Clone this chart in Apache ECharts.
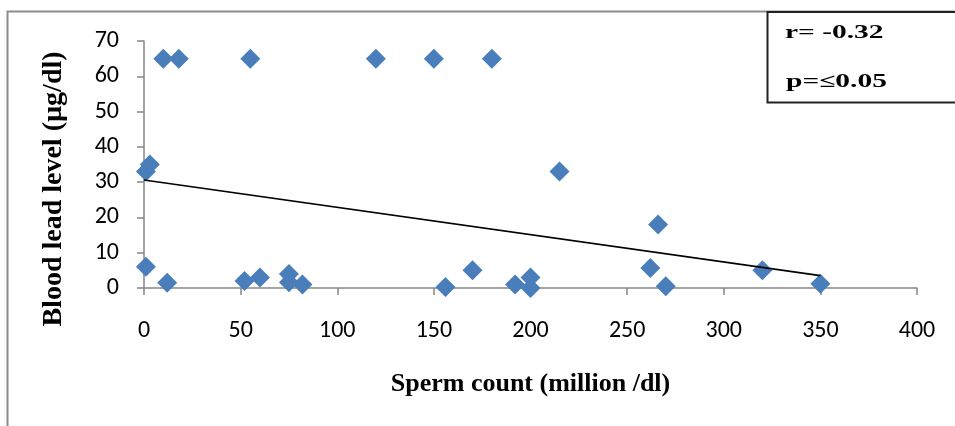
<!DOCTYPE html>
<html>
<head>
<meta charset="utf-8">
<script src="https://cdn.jsdelivr.net/npm/echarts@6/dist/echarts.min.js"></script>
<style>
  html, body { margin: 0; padding: 0; background: #fff; }
  #main { width: 955px; height: 426px; }
</style>
</head>
<body>
<div id="main"></div>
<script>
// values
var spermCount = [10, 18, 55, 120, 150, 180, 3, 1, 1, 12, 52, 60, 75, 75, 82, 156, 170, 192, 200, 200, 215, 266, 262, 270, 320, 350];
var leadLevel  = [65, 65, 65, 65, 65, 65, 35, 33, 6, 1.5, 2, 3, 4, 1.6, 1, 0.3, 5, 1, 3, 0, 33, 18, 5.7, 0.5, 5, 1.2];
var trendX = [0, 350];
var trendY = [30.6, 3.5];
var statLines = ['r= -0.32', 'p=\u22640.05'];

var points = [];
for (var i = 0; i < spermCount.length; i++) {
	points.push([spermCount[i], leadLevel[i]]);
}
var trend = [];
for (var j = 0; j < trendX.length; j++) {
	trend.push([trendX[j], trendY[j]]);
}

var axisGrey = '#868686';
var tickFont = 'Carlito, "Noto Sans", sans-serif';
var titleFont = '"Liberation Serif", "Times New Roman", serif';

var myChart = echarts.init(document.getElementById('main'));
var option = {
	animation: false,
	backgroundColor: '#fff',
	grid: {
		left: 144,
		top: 41,
		width: 773,
		height: 247
	},
	xAxis: {
		type: 'value',
		min: 0,
		max: 400,
		interval: 50,
		splitLine: { show: false },
		axisLine: { lineStyle: { color: axisGrey, width: 1.5 } },
		axisTick: { show: true, length: 7, lineStyle: { color: axisGrey, width: 1.5 } },
		axisLabel: { color: '#000', fontFamily: tickFont, fontSize: 24, margin: 31 },
		name: 'Sperm count (million /dl)',
		nameLocation: 'middle',
		nameGap: 83,
		nameTextStyle: { color: '#000', fontFamily: titleFont, fontWeight: 'bold', fontSize: 26 }
	},
	yAxis: {
		type: 'value',
		min: 0,
		max: 70,
		interval: 10,
		splitLine: { show: false },
		axisLine: { show: true, lineStyle: { color: axisGrey, width: 1.5 } },
		axisTick: { show: true, length: 7, lineStyle: { color: axisGrey, width: 1.5 } },
		axisLabel: { color: '#000', fontFamily: tickFont, fontSize: 24, margin: 25 }
	},
	series: [{
		type: 'scatter',
		data: points,
		symbol: 'diamond',
		symbolSize: 20,
		itemStyle: { color: '#4a7ebb', opacity: 1 },
		z: 3
	}, {
		type: 'line',
		data: trend,
		symbol: 'none',
		lineStyle: { color: '#000', width: 1.6 },
		z: 4
	}],
	graphic: [{
		type: 'rect',
		shape: { x: 7.5, y: 11.5, width: 1000, height: 500 },
		style: { fill: 'none', stroke: '#8c8c8c', lineWidth: 2 },
		z: -1,
		silent: true
	}, {
		type: 'text',
		x: 54,
		y: 189,
		rotation: Math.PI / 2,
		style: {
			text: 'Blood lead level (\u00b5g/dl)',
			fill: '#000',
			font: 'bold 28px ' + titleFont,
			align: 'center',
			verticalAlign: 'middle'
		}
	}, {
		type: 'rect',
		shape: { x: 767.5, y: 12, width: 200, height: 90.5 },
		style: { fill: '#fff', stroke: '#222', lineWidth: 2 },
		z: 10
	}, {
		type: 'text',
		x: 785,
		y: 33,
		scaleX: 1.55,
		style: {
			text: statLines[0],
			fill: '#000',
			font: 'bold 19px ' + titleFont,
			verticalAlign: 'middle'
		},
		z: 11
	}, {
		type: 'text',
		x: 786,
		y: 82,
		scaleX: 1.55,
		style: {
			text: statLines[1],
			fill: '#000',
			font: 'bold 19px ' + titleFont,
			verticalAlign: 'middle'
		},
		z: 11
	}]
};
myChart.setOption(option);
</script>
</body>
</html>
